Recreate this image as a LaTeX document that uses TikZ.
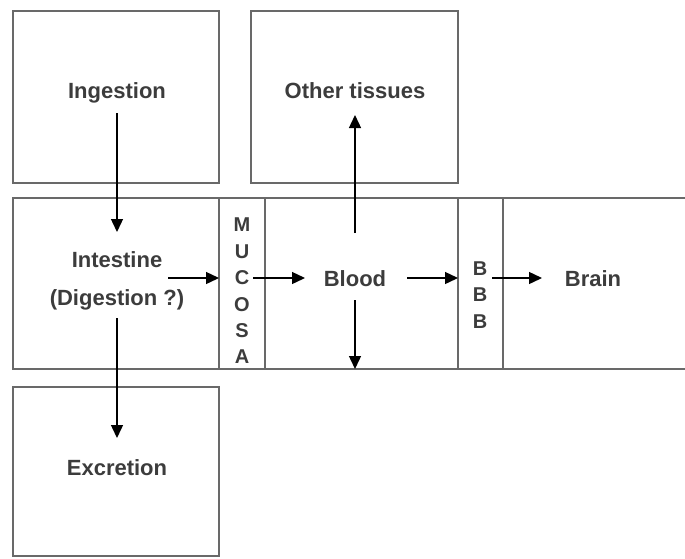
\documentclass[tikz,border=0pt]{standalone}
\usepackage{fontspec}
\setmainfont{Liberation Sans}
\usetikzlibrary{arrows.meta}
\definecolor{boxgray}{RGB}{105,105,105}
\definecolor{txtgray}{RGB}{60,60,60}
\begin{document}
\begin{tikzpicture}[x=1pt,y=-1pt,
  cell/.style={draw=boxgray, line width=2.4pt, anchor=north west, inner sep=0pt, outer sep=0pt, minimum height=#1},
  lbl/.style={font=\fontsize{22}{38}\selectfont\bfseries, text=txtgray, inner sep=0pt, text height=16pt, text depth=0pt},
  mlbl/.style={font=\fontsize{22}{38}\selectfont\bfseries, text=txtgray, inner sep=0pt, align=center},
  vlbl/.style={font=\fontsize{20}{26.4}\selectfont\bfseries, text=txtgray, inner sep=0pt, align=center},
  arr/.style={draw=black, line width=1.4pt, -{Triangle[length=13pt,width=12pt]}}]
\useasboundingbox (0,0) rectangle (685,558);
\coordinate (redge) at (685,0);
% boxes
\node[cell=172pt, minimum width=206pt] (ingbox) at (13,11) {};
\node[cell=172pt, minimum width=207pt] (othbox) at (251,11) {};
\node[cell=171pt, minimum width=206pt] (icell) at (13,198) {};
\node[cell=171pt, minimum width=46pt] (mcell) at (219,198) {};
\node[cell=171pt, minimum width=193pt] (bcell) at (265,198) {};
\node[cell=171pt, minimum width=45pt] (bbbcell) at (458,198) {};
\node[cell=169pt, minimum width=206pt] (excbox) at (13,387) {};
\draw[draw=boxgray, line width=2.4pt] (bbbcell.north east) -- (bbbcell.north east -| redge);
\draw[draw=boxgray, line width=2.4pt] (bbbcell.south east) -- (bbbcell.south east -| redge);
% labels
\node[lbl] (ing) at (117,90) {Ingestion};
\node[lbl] (oth) at (355,90) {Other tissues};
\node[mlbl] (intes) at (117,281) {Intestine\\(Digestion ?)};
\node[vlbl] (muc) at (242,291) {M\\U\\C\\O\\S\\A};
\node[lbl] (blood) at (355,278) {Blood};
\node[vlbl] (bbb) at (480,295) {B\\B\\B};
\node[lbl] (brain) at (593,278) {Brain};
\node[lbl] (exc) at (117,467) {Excretion};
% arrows
\draw[arr, shorten <=23pt, shorten >=49pt] (ing.center) -- (intes.center);
\draw[arr, shorten <=37pt, shorten >=29pt] (intes.center) -- (exc.center);
\draw[arr, shorten <=51pt] (blood.center -| intes.center) -- (blood.center -| mcell.west);
\draw[arr, shorten <=11pt, shorten >=50pt] (muc.center |- blood.center) -- (blood.center);
\draw[arr, shorten <=52pt] (blood.center) -- (blood.center -| bbbcell.west);
\draw[arr, shorten <=12pt, shorten >=51pt] (bbb.center |- brain.center) -- (brain.center);
\draw[arr, shorten <=45pt, shorten >=25pt] (blood.center) -- (oth.center);
\draw[arr, shorten <=22pt] (blood.center) -- (blood.center |- bcell.south);
\end{tikzpicture}
\end{document}
